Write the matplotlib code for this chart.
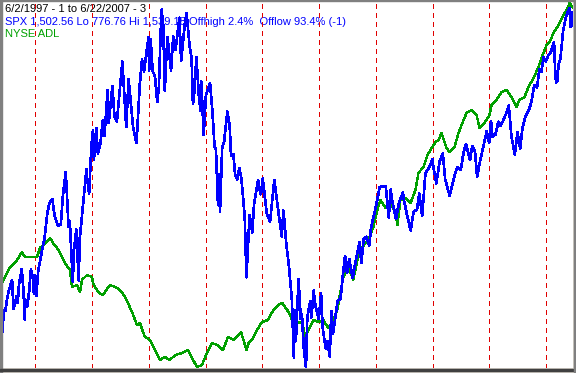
import numpy as np
import matplotlib
matplotlib.use('Agg')
import matplotlib.pyplot as plt
from matplotlib.patches import Rectangle

# S&P 500 (zamknięcia, wybrane dni)
spx_dates = [
    '1997-06-02', '1997-06-12', '1997-06-17', '1997-06-24', '1997-07-03', '1997-07-16', '1997-08-06',
    '1997-08-15', '1997-08-27', '1997-09-02', '1997-09-11', '1997-09-19', '1997-10-07', '1997-10-17',
    '1997-10-27', '1997-10-28', '1997-11-12', '1997-11-24', '1997-12-05', '1997-12-17', '1997-12-24',
    '1997-12-31',
    '1998-01-09', '1998-01-20', '1998-02-13', '1998-03-02', '1998-03-20', '1998-04-03', '1998-04-22',
    '1998-05-06', '1998-05-27', '1998-06-15', '1998-06-29', '1998-07-17', '1998-08-04', '1998-08-12',
    '1998-08-31', '1998-09-08', '1998-09-23', '1998-10-08', '1998-10-15', '1998-11-09', '1998-11-27',
    '1998-12-01', '1998-12-14', '1998-12-29',
    '1999-01-08', '1999-01-14', '1999-01-29', '1999-02-09', '1999-02-25', '1999-03-12', '1999-03-23',
    '1999-04-12', '1999-04-19', '1999-05-13', '1999-05-26', '1999-06-11', '1999-07-16', '1999-08-10',
    '1999-08-25', '1999-09-23', '1999-10-15', '1999-11-05', '1999-11-19', '1999-12-02', '1999-12-31',
    '2000-01-04', '2000-01-14', '2000-01-27', '2000-02-11', '2000-02-25', '2000-03-07', '2000-03-16',
    '2000-03-24', '2000-04-04', '2000-04-14', '2000-04-24', '2000-05-01', '2000-05-24', '2000-06-07',
    '2000-06-22', '2000-07-17', '2000-07-28', '2000-08-21', '2000-09-01', '2000-09-21', '2000-10-03',
    '2000-10-12', '2000-10-18', '2000-11-03', '2000-11-20', '2000-11-30', '2000-12-05', '2000-12-20',
    '2000-12-29',
    '2001-01-03', '2001-01-30', '2001-02-13', '2001-02-28', '2001-03-09', '2001-03-22', '2001-03-27',
    '2001-04-04', '2001-04-18', '2001-04-30', '2001-05-21', '2001-06-05', '2001-06-14', '2001-06-29',
    '2001-07-10', '2001-07-24', '2001-08-06', '2001-08-20', '2001-09-10', '2001-09-21', '2001-10-11',
    '2001-10-29', '2001-11-09', '2001-12-05', '2001-12-20', '2001-12-31',
    '2002-01-04', '2002-01-29', '2002-02-20', '2002-03-19', '2002-04-15', '2002-05-06', '2002-05-17',
    '2002-06-03', '2002-06-21', '2002-07-10', '2002-07-23', '2002-07-29', '2002-08-05', '2002-08-22',
    '2002-09-05', '2002-09-13', '2002-09-24', '2002-10-09', '2002-10-17', '2002-10-25', '2002-11-05',
    '2002-11-13', '2002-11-27', '2002-12-10', '2002-12-30',
    '2003-01-14', '2003-01-24', '2003-02-07', '2003-02-13', '2003-02-24', '2003-03-11', '2003-03-17',
    '2003-03-21', '2003-03-31', '2003-04-10', '2003-04-30', '2003-05-19', '2003-06-02', '2003-06-17',
    '2003-06-30', '2003-07-14', '2003-08-05', '2003-08-29', '2003-09-18', '2003-09-30', '2003-10-14',
    '2003-10-31', '2003-11-20', '2003-12-01', '2003-12-31',
    '2004-01-26', '2004-02-11', '2004-03-05', '2004-03-24', '2004-04-05', '2004-04-14', '2004-05-10',
    '2004-05-28', '2004-06-23', '2004-07-01', '2004-07-22', '2004-08-12', '2004-08-31', '2004-09-22',
    '2004-10-06', '2004-10-25', '2004-11-15', '2004-12-13', '2004-12-30',
    '2005-01-03', '2005-01-24', '2005-02-15', '2005-03-07', '2005-03-22', '2005-04-20', '2005-05-17',
    '2005-06-07', '2005-06-30', '2005-07-19', '2005-08-03', '2005-08-29', '2005-09-12', '2005-09-30',
    '2005-10-13', '2005-10-31', '2005-11-15', '2005-12-14', '2005-12-30',
    '2006-01-11', '2006-01-20', '2006-02-08', '2006-02-27', '2006-03-13', '2006-03-31', '2006-04-20',
    '2006-05-05', '2006-05-22', '2006-06-13', '2006-06-30', '2006-07-17', '2006-07-31', '2006-08-18',
    '2006-09-15', '2006-09-29', '2006-10-16', '2006-11-03', '2006-11-17', '2006-12-01', '2006-12-15',
    '2006-12-29',
    '2007-01-12', '2007-01-31', '2007-02-20', '2007-02-27', '2007-03-05', '2007-03-14', '2007-03-20',
    '2007-04-02', '2007-04-20', '2007-05-07', '2007-05-18', '2007-05-30', '2007-06-07', '2007-06-12',
    '2007-06-14', '2007-06-22',
]
spx_values = [
    846, 884, 897, 896, 917, 939, 960, 900, 913, 927, 912, 950, 983, 944, 877, 921, 905, 938, 983, 965, 932, 970,
    927, 978, 1020, 1047, 1100, 1122, 1130, 1095, 1074, 1077, 1138, 1187, 1072, 1084, 957, 1023, 1066, 959,
    1047, 1131, 1192, 1175, 1141, 1241,
    1275, 1212, 1279, 1225, 1246, 1295, 1262, 1358, 1289, 1367, 1304, 1293, 1418, 1281, 1382, 1280, 1247,
    1370, 1422, 1397, 1469,
    1399, 1465, 1398, 1387, 1333, 1366, 1458, 1527, 1494, 1357, 1429, 1469, 1399, 1471, 1442, 1510, 1420,
    1499, 1520, 1449, 1426, 1329, 1342, 1427, 1342, 1315, 1376, 1264, 1320,
    1347, 1373, 1319, 1240, 1233, 1117, 1182, 1104, 1238, 1249, 1313, 1284, 1220, 1224, 1181, 1171, 1195,
    1172, 1093, 966, 1097, 1060, 1120, 1170, 1140, 1148,
    1173, 1100, 1083, 1170, 1102, 1052, 1106, 1040, 990, 920, 797, 898, 834, 962, 879, 889, 819, 777, 880,
    897, 915, 882, 938, 904, 879,
    932, 861, 829, 817, 833, 800, 862, 895, 848, 868, 917, 921, 967, 1011, 975, 1004, 965, 1008, 1039, 996,
    1045, 1051, 1033, 1070, 1112,
    1155, 1157, 1157, 1091, 1150, 1129, 1088, 1121, 1144, 1126, 1093, 1064, 1104, 1108, 1142, 1095, 1184,
    1199, 1213,
    1202, 1163, 1210, 1225, 1171, 1137, 1174, 1197, 1191, 1229, 1245, 1212, 1241, 1229, 1177, 1207, 1229,
    1272, 1248,
    1294, 1261, 1265, 1292, 1284, 1295, 1311, 1326, 1262, 1223, 1270, 1236, 1277, 1302, 1320, 1336, 1369,
    1364, 1401, 1397, 1427, 1418,
    1430, 1438, 1459, 1400, 1374, 1377, 1410, 1424, 1484, 1510, 1522, 1530, 1491, 1493, 1522, 1503,
]

# NYSE ADL (jednostki umowne)
adl_dates = [
    '1997-06-02', '1997-07-23', '1997-08-25', '1997-10-09', '1997-10-27', '1997-12-18', '1998-01-13',
    '1998-02-01', '1998-02-21', '1998-04-07', '1998-04-26', '1998-05-22', '1998-06-10', '1998-07-12',
    '1998-08-13', '1998-08-26', '1998-09-27', '1998-10-17', '1998-10-29', '1998-12-01', '1999-01-02',
    '1999-01-08', '1999-02-09', '1999-03-13', '1999-04-27', '1999-05-30', '1999-07-01', '1999-08-02',
    '1999-08-21', '1999-09-16', '1999-10-18', '1999-11-06', '1999-11-26', '1999-12-09', '2000-01-10',
    '2000-02-11', '2000-03-14', '2000-04-15', '2000-05-17', '2000-06-19', '2000-08-03', '2000-09-10',
    '2000-10-06', '2000-11-07', '2000-12-09', '2001-01-10', '2001-02-11', '2001-03-16', '2001-04-23',
    '2001-05-25', '2001-07-03', '2001-08-17', '2001-09-21', '2001-10-05', '2001-10-27', '2001-11-28',
    '2001-12-30', '2002-02-07', '2002-03-05', '2002-04-13', '2002-05-09', '2002-06-10', '2002-06-30',
    '2002-07-19', '2002-08-14', '2002-09-15', '2002-10-04', '2002-10-24', '2002-11-25', '2002-12-27',
    '2003-01-28', '2003-03-01', '2003-03-27', '2003-04-28', '2003-05-17', '2003-06-06', '2003-07-08',
    '2003-08-09', '2003-09-04', '2003-10-06', '2003-11-14', '2003-12-16', '2004-01-11', '2004-01-30',
    '2004-03-03', '2004-04-04', '2004-05-06', '2004-05-19', '2004-06-07', '2004-07-09', '2004-08-11',
    '2004-09-12', '2004-10-01', '2004-11-02', '2004-11-28', '2004-12-30', '2005-01-19', '2005-02-07',
    '2005-02-26', '2005-03-30', '2005-04-18', '2005-05-21', '2005-06-16', '2005-07-18', '2005-08-07',
    '2005-09-08', '2005-10-10', '2005-10-29', '2005-11-30', '2006-01-01', '2006-01-14', '2006-02-15',
    '2006-03-19', '2006-04-20', '2006-05-22', '2006-06-23', '2006-07-13', '2006-08-14', '2006-09-09',
    '2006-10-11', '2006-11-12', '2006-12-02', '2007-01-03', '2007-01-22', '2007-02-17', '2007-03-21',
    '2007-04-22', '2007-05-12', '2007-06-01', '2007-06-22',
]
adl_values = [
    85, 101, 105, 116, 111, 111, 111, 120, 123, 130, 125, 120, 115, 105, 98, 81, 83, 76, 88, 93, 91,
    85, 76, 73, 83, 81, 78, 71, 65, 56, 43, 45, 36, 31, 28, 18, 8, 11, 8, 13, 15, 18, 10, 1, 3, 15, 25,
    23, 18, 31, 28, 36, 18, 25, 28, 38, 46, 48, 56, 63, 65, 58, 53, 43, 46, 45, 31, 38, 48, 46, 48, 40,
    46, 58, 75, 91, 101, 88, 108, 121, 128, 141, 158, 168, 160, 165, 155, 143, 168, 170, 165, 178, 195,
    201, 213, 221, 226, 228, 235, 220, 216, 221, 235, 248, 255, 258, 253, 240, 245, 253, 263, 268, 276,
    278, 271, 261, 268, 271, 281, 290, 301, 310, 323, 326, 335, 343, 353, 358, 365, 360,
]

year_lines = ['1998-01-01', '1999-01-01', '2000-01-01', '2001-01-01', '2002-01-01',
              '2003-01-01', '2004-01-01', '2005-01-01', '2006-01-01', '2007-01-01']

spx_dates = np.array(spx_dates, dtype='datetime64[D]')
adl_dates = np.array(adl_dates, dtype='datetime64[D]')

W, H = 576, 373
fig = plt.figure(figsize=(W / 100, H / 100), dpi=100, facecolor='#d4d0c8')

# ramka w stylu okna Windows
fig.patches.append(Rectangle((0, 0), 2 / W, 1, transform=fig.transFigure, color='#808080', zorder=0))
fig.patches.append(Rectangle((0, 1 - 1 / H), 1, 1 / H, transform=fig.transFigure, color='#808080', zorder=0))
fig.patches.append(Rectangle((0, 2 / H), 1, 2 / H, transform=fig.transFigure, color='#404040', zorder=0))
fig.patches.append(Rectangle((1 - 2 / W, 0), 2 / W, 1, transform=fig.transFigure, color='#808080', zorder=0))

ax = fig.add_axes([2 / W, 5 / H, 571 / W, 367 / H])
ax.set_facecolor('white')
for v in year_lines:
    ax.axvline(np.datetime64(v), color='#e00000', lw=1.0, linestyle=(0, (3, 3)),
               antialiased=False, zorder=1)
ax.plot(adl_dates, adl_values, color='#00a000', lw=1.0, antialiased=False, zorder=2)
ax.set_ylim(0, 367)
ax.set_xlim(np.datetime64('1997-06-02'), np.datetime64('2007-06-22'))

ax2 = ax.twinx()
ax2.plot(spx_dates, spx_values, color='#0000ff', lw=1.2, antialiased=False)
ax2.set_ylim(776, 1545)
ax2.set_xlim(np.datetime64('1997-06-02'), np.datetime64('2007-06-22'))

for a in (ax, ax2):
    a.set_xticks([])
    a.set_yticks([])
    for s in a.spines.values():
        s.set_visible(False)

fnt = dict(family=['Liberation Sans', 'DejaVu Sans'], fontsize=8)
tx = 3 / 571
ax.text(tx, 1 - 11 / 367, '6/2/1997 - 1 to 6/22/2007 - 3', color='black',
        transform=ax.transAxes, va='baseline', zorder=0.5, **fnt)
ax.text(tx, 1 - 24 / 367, 'SPX 1,502.56 Lo 776.76 Hi 1,539.18 Offhigh 2.4%  Offlow 93.4% (-1)',
        color='#0000ff', transform=ax.transAxes, va='baseline', zorder=0.5, **fnt)
ax.text(tx, 1 - 36 / 367, 'NYSE ADL', color='#00a000',
        transform=ax.transAxes, va='baseline', zorder=0.5, **fnt)

fig.savefig('out.png', dpi=100, facecolor=fig.get_facecolor())
